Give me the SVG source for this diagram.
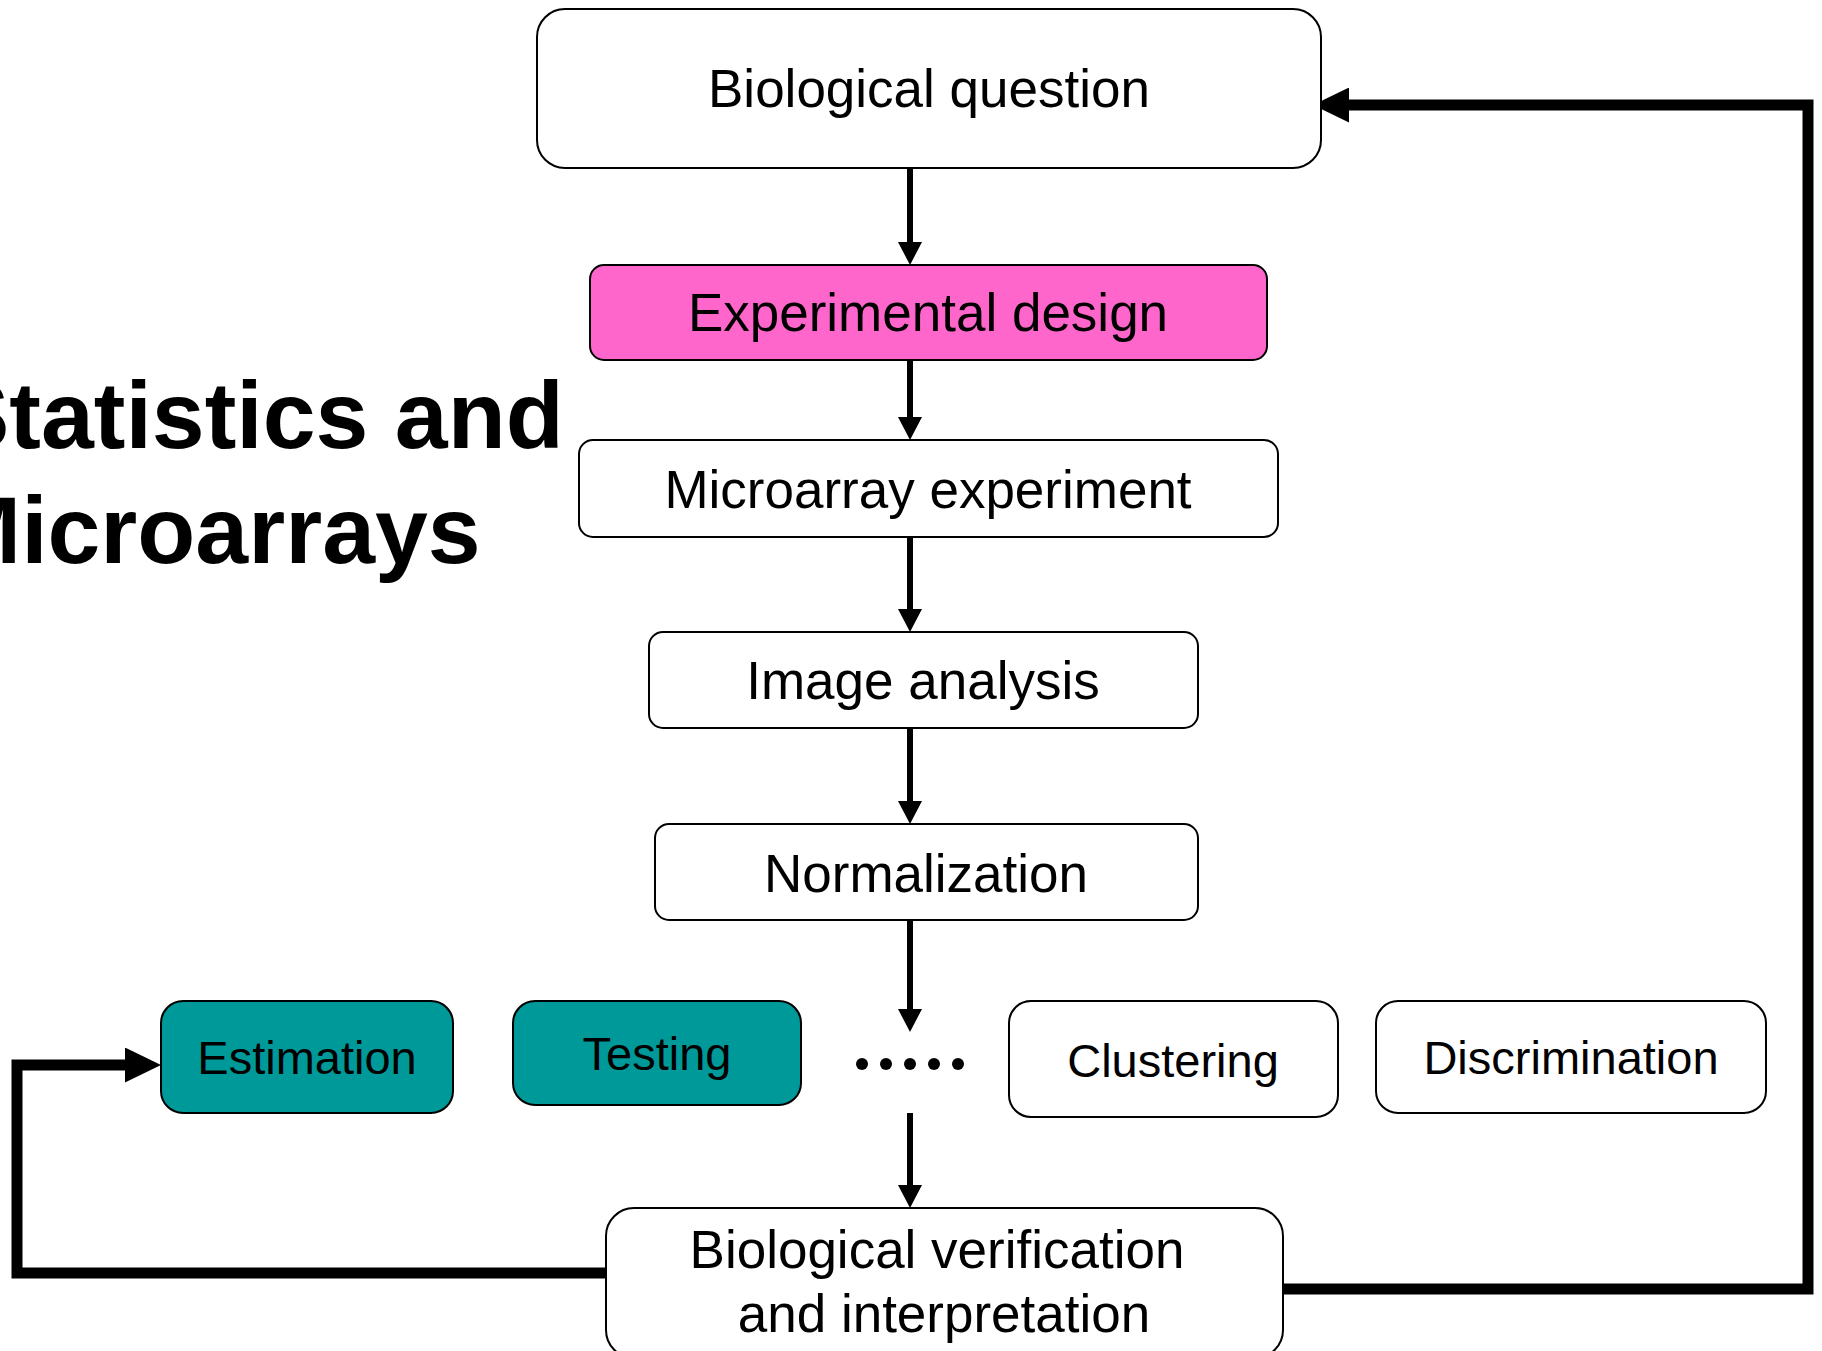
<svg xmlns="http://www.w3.org/2000/svg" width="1822" height="1351" viewBox="0 0 1822 1351">
<style>
.box{stroke:#000;stroke-width:2;fill:#fff}
.pink{fill:#FF66CC}
.teal{fill:#009999}
.lbl{font-family:"Liberation Sans",Arial,sans-serif;fill:#000;text-anchor:middle}
.big{font-size:53px}
.mid{font-size:47px}
.title{font-family:"Liberation Sans",Arial,sans-serif;font-weight:bold;font-size:95px;fill:#000}
.thin{stroke:#000;stroke-width:6;fill:none}
.thick{stroke:#000;stroke-width:11;fill:none}
</style>
<defs>
<marker id="ah" markerUnits="userSpaceOnUse" viewBox="0 0 23 24" refX="0" refY="12" markerWidth="23" markerHeight="24" orient="auto"><path d="M0,0 L23,12 L0,24 z" fill="#000"/></marker>
<marker id="ahb" markerUnits="userSpaceOnUse" viewBox="0 0 36 35" refX="0" refY="17.5" markerWidth="36" markerHeight="35" orient="auto"><path d="M0,0 L36,17.5 L0,35 z" fill="#000"/></marker>
</defs>
<rect width="1822" height="1351" fill="#fff"/>
<g id="title">
<text class="title" x="-54" y="448">Statistics and</text>
<text class="title" x="-58" y="563">Microarrays</text>
</g>
<g id="connectors">
<path class="thin" d="M910,168 V242" marker-end="url(#ah)"/>
<path class="thin" d="M910,360 V417" marker-end="url(#ah)"/>
<path class="thin" d="M910,537 V609" marker-end="url(#ah)"/>
<path class="thin" d="M910,728 V801" marker-end="url(#ah)"/>
<path class="thin" d="M910,920 V1009" marker-end="url(#ah)"/>
<path class="thin" d="M910,1113 V1185" marker-end="url(#ah)"/>
<path class="thick" d="M1283,1289 H1808 V105 H1349" marker-end="url(#ahb)"/>
<path class="thick" d="M606,1273 H17 V1065 H125" marker-end="url(#ahb)"/>
</g>
<g id="n-bq"><rect class="box" x="537" y="9" width="784" height="159" rx="28"/><text class="lbl big" x="929" y="107">Biological question</text></g>
<g id="n-ed"><rect class="box pink" x="590" y="265" width="677" height="95" rx="14"/><text class="lbl big" x="928" y="331">Experimental design</text></g>
<g id="n-me"><rect class="box" x="579" y="440" width="699" height="97" rx="14"/><text class="lbl big" x="928" y="508">Microarray experiment</text></g>
<g id="n-ia"><rect class="box" x="649" y="632" width="549" height="96" rx="14"/><text class="lbl big" x="923" y="699">Image analysis</text></g>
<g id="n-no"><rect class="box" x="655" y="824" width="543" height="96" rx="14"/><text class="lbl big" x="926" y="892">Normalization</text></g>
<g id="n-est"><rect class="box teal" x="161" y="1001" width="292" height="112" rx="22"/><text class="lbl mid" x="307" y="1074">Estimation</text></g>
<g id="n-tst"><rect class="box teal" x="513" y="1001" width="288" height="104" rx="22"/><text class="lbl mid" x="657" y="1070">Testing</text></g>
<g id="n-dots"><circle cx="862" cy="1064" r="6"/><circle cx="886" cy="1064" r="6"/><circle cx="910" cy="1064" r="6"/><circle cx="934" cy="1064" r="6"/><circle cx="958" cy="1064" r="6"/></g>
<g id="n-clu"><rect class="box" x="1009" y="1001" width="329" height="116" rx="22"/><text class="lbl mid" x="1173" y="1077">Clustering</text></g>
<g id="n-dis"><rect class="box" x="1376" y="1001" width="390" height="112" rx="22"/><text class="lbl mid" x="1571" y="1074">Discrimination</text></g>
<g id="n-bv"><rect class="box" x="606" y="1208" width="677" height="150" rx="28"/><text class="lbl big" x="937" y="1268">Biological verification</text><text class="lbl big" x="944" y="1332">and interpretation</text></g>
</svg>
